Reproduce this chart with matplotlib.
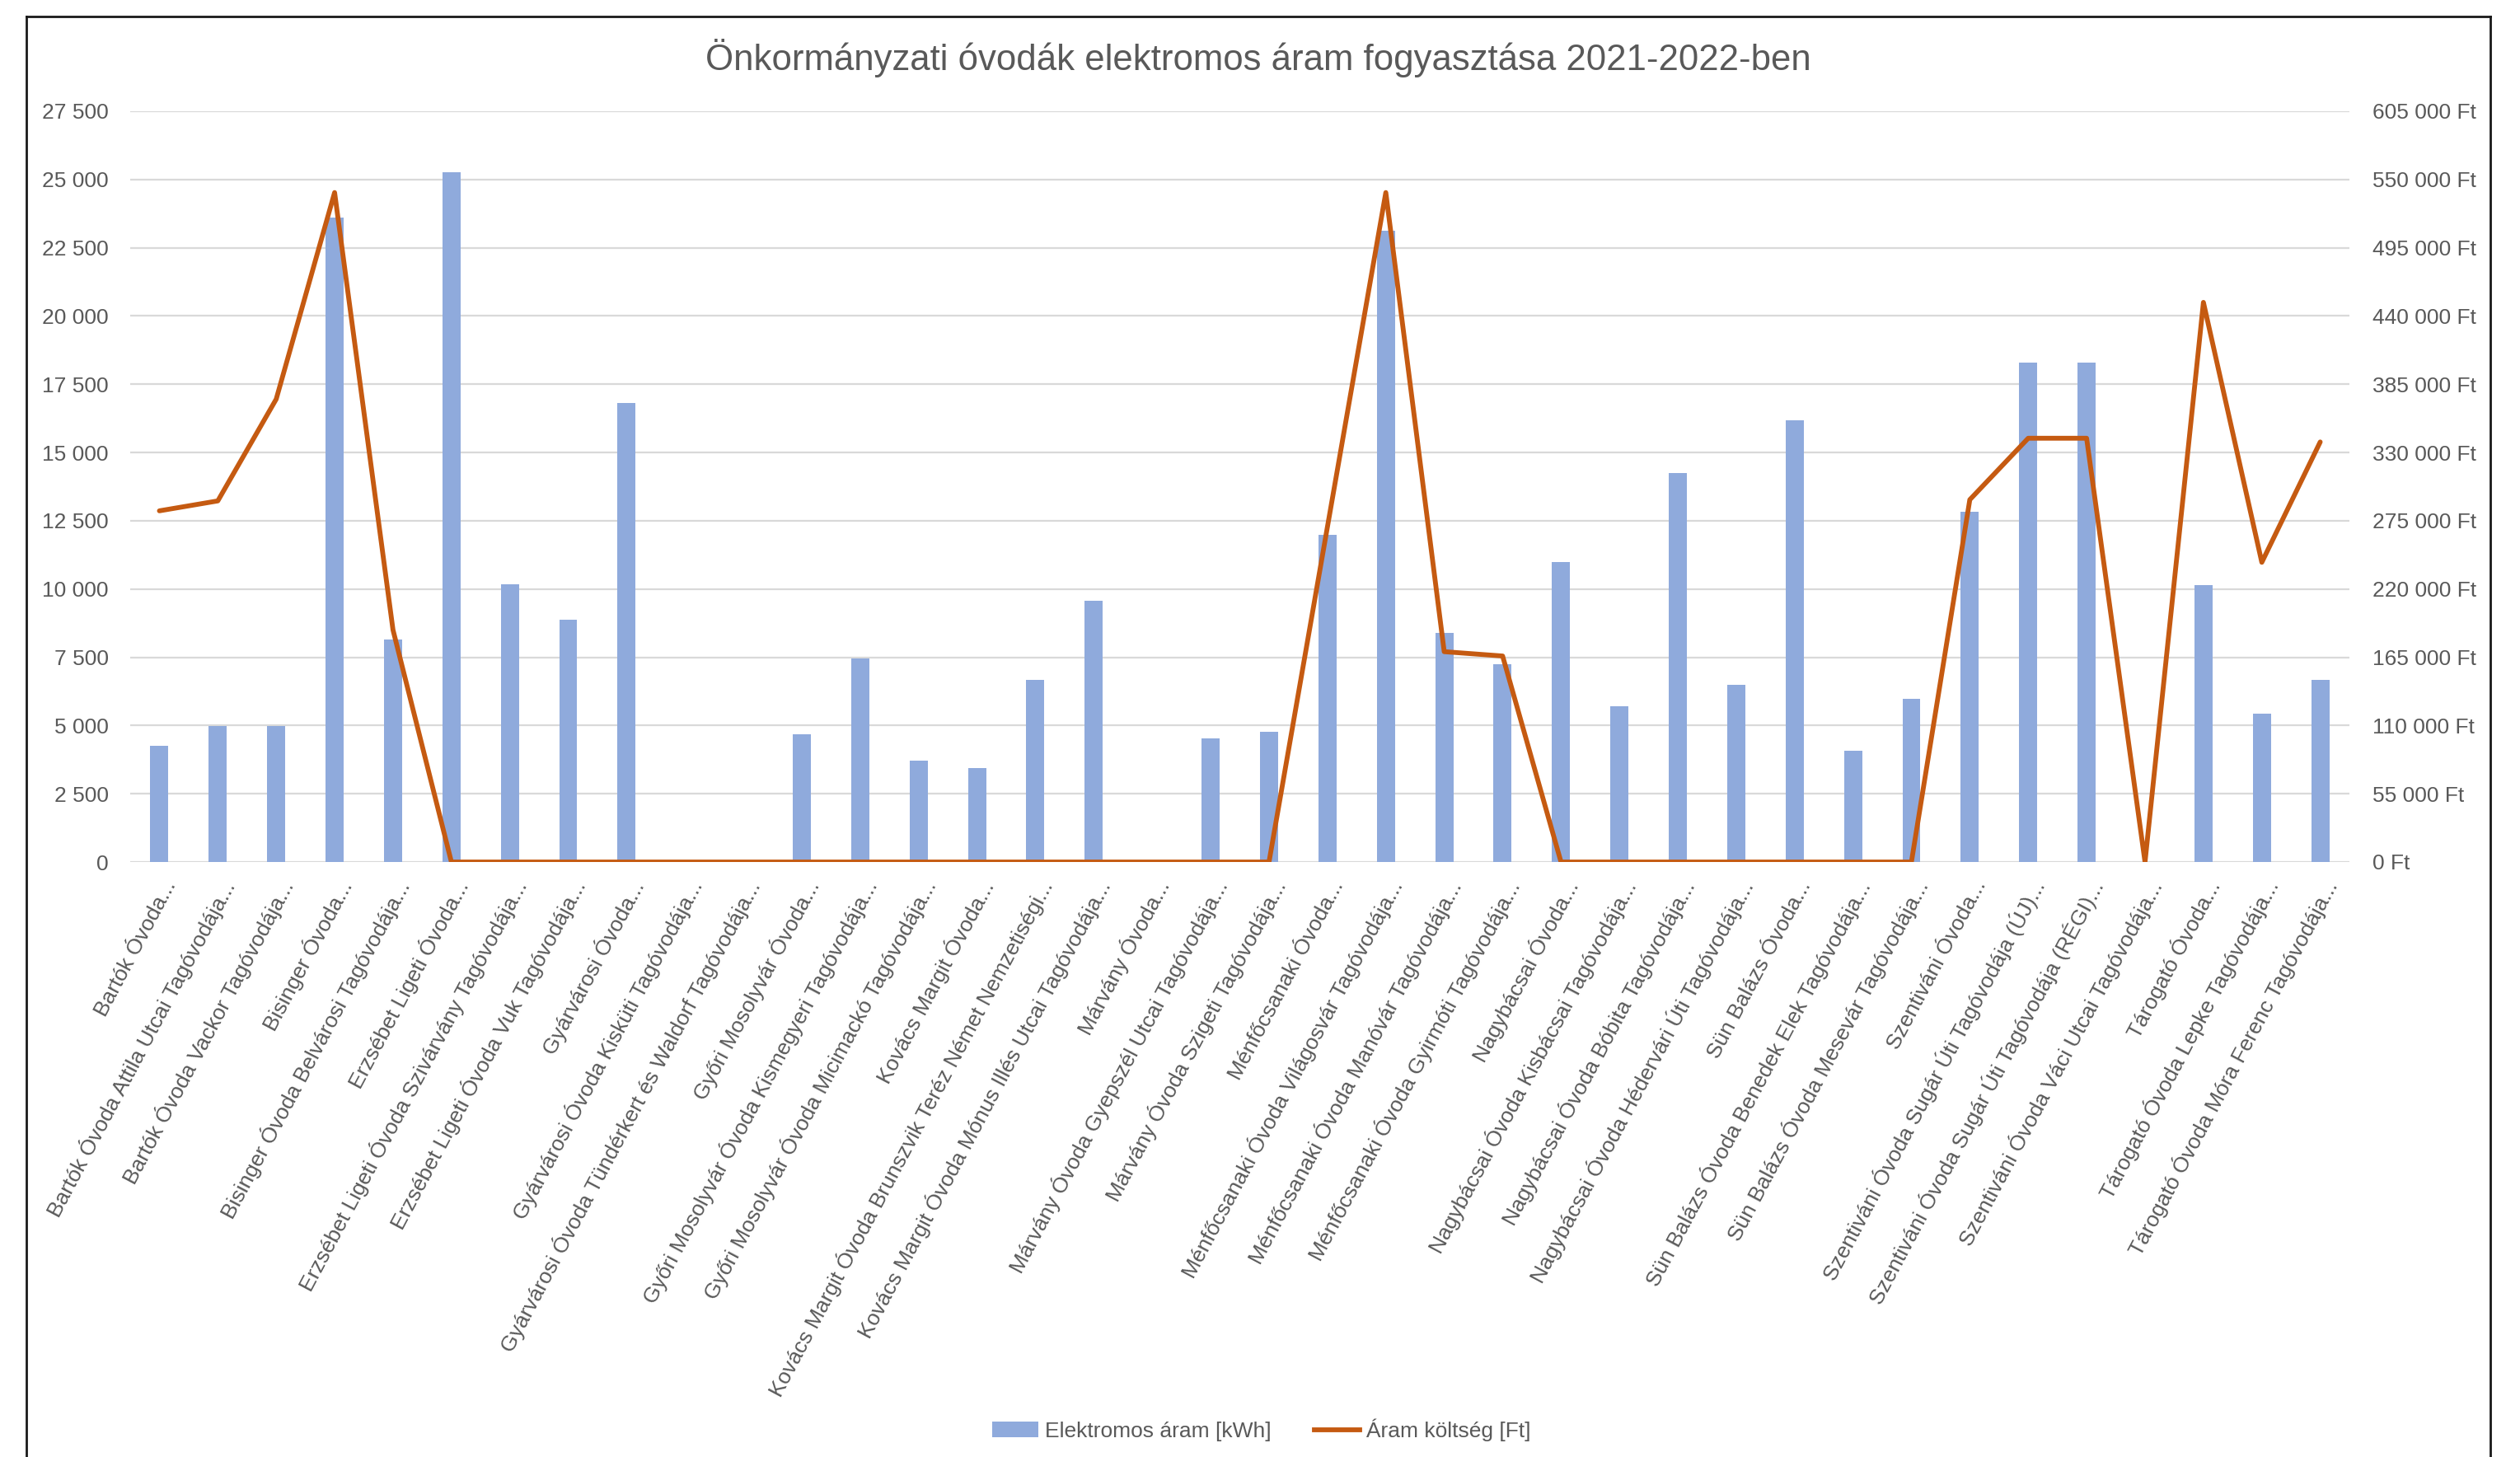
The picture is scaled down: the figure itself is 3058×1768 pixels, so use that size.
import matplotlib
matplotlib.use('Agg')
import matplotlib.pyplot as plt
import matplotlib.transforms as mtransforms
from matplotlib.lines import Line2D
from matplotlib.patches import Patch
from matplotlib.ticker import FuncFormatter

plt.rcParams['font.family'] = ['Liberation Sans Narrow', 'Liberation Sans', 'DejaVu Sans']

title = 'Önkormányzati óvodák elektromos áram fogyasztása 2021-2022-ben'

ovodak = [
    'Bartók Óvoda...',
    'Bartók Óvoda Attila Utcai Tagóvodája...',
    'Bartók Óvoda Vackor Tagóvodája...',
    'Bisinger Óvoda...',
    'Bisinger Óvoda Belvárosi Tagóvodája...',
    'Erzsébet Ligeti Óvoda...',
    'Erzsébet Ligeti Óvoda Szivárvány Tagóvodája...',
    'Erzsébet Ligeti Óvoda Vuk Tagóvodája...',
    'Gyárvárosi Óvoda...',
    'Gyárvárosi Óvoda Kisküti Tagóvodája...',
    'Gyárvárosi Óvoda Tündérkert és Waldorf Tagóvodája...',
    'Győri Mosolyvár Óvoda...',
    'Győri Mosolyvár Óvoda Kismegyeri Tagóvodája...',
    'Győri Mosolyvár Óvoda Micimackó Tagóvodája...',
    'Kovács Margit Óvoda...',
    'Kovács Margit Óvoda Brunszvik Teréz Német Nemzetiségi...',
    'Kovács Margit Óvoda Mónus Illés Utcai Tagóvodája...',
    'Márvány Óvoda...',
    'Márvány Óvoda Gyepszél Utcai Tagóvodája...',
    'Márvány Óvoda Szigeti Tagóvodája...',
    'Ménfőcsanaki Óvoda...',
    'Ménfőcsanaki Óvoda Világosvár Tagóvodája...',
    'Ménfőcsanaki Óvoda Manóvár Tagóvodája...',
    'Ménfőcsanaki Óvoda Gyirmóti Tagóvodája...',
    'Nagybácsai Óvoda...',
    'Nagybácsai Óvoda Kisbácsai Tagóvodája...',
    'Nagybácsai Óvoda Bóbita Tagóvodája...',
    'Nagybácsai Óvoda Hédervári Úti Tagóvodája...',
    'Sün Balázs Óvoda...',
    'Sün Balázs Óvoda Benedek Elek Tagóvodája...',
    'Sün Balázs Óvoda Mesevár Tagóvodája...',
    'Szentiváni Óvoda...',
    'Szentiváni Óvoda Sugár Úti Tagóvodája (ÚJ)...',
    'Szentiváni Óvoda Sugár Úti Tagóvodája (RÉGI)...',
    'Szentiváni Óvoda Váci Utcai Tagóvodája...',
    'Tárogató Óvoda...',
    'Tárogató Óvoda Lepke Tagóvodája...',
    'Tárogató Óvoda Móra Ferenc Tagóvodája...',
]

# Elektromos áram [kWh]
aram_kwh = [4260, 4970, 4970, 23600, 8160, 25260, 10170, 8870, 16820, 0,
            0, 4670, 7460, 3725, 3435, 6675, 9555, 0, 4530, 4760,
            11990, 23110, 8395, 7250, 10985, 5720, 14250, 6480, 16165, 4070,
            5975, 12840, 18280, 18280, 0, 10135, 5440, 6670]

# Áram költség [Ft]
koltseg_ft = [283000, 291000, 373000, 539500, 187000, 0, 0, 0, 0, 0,
              0, 0, 0, 0, 0, 0, 0, 0, 0, 0,
              270000, 539500, 169500, 166000, 0, 0, 0, 0, 0, 0,
              0, 292000, 341500, 341500, 0, 451000, 241500, 338500]

kwh_ticks = list(range(0, 27501, 2500))
ft_ticks = list(range(0, 605001, 55000))

txt = '#595959'
W, H = 3058, 1768
fig = plt.figure(figsize=(W / 100, H / 100), dpi=100)

ax = fig.add_axes([158 / W, 1 - 1046 / H, 2693 / W, 911 / H])
ax2 = ax.twinx()

x = list(range(len(ovodak)))
ax.bar(x, aram_kwh, width=0.31, color='#8FAADC', zorder=2)
ax2.plot(x, koltseg_ft, color='#C55A11', lw=4.2, solid_joinstyle='round',
         solid_capstyle='round', zorder=3)

ax.set_xlim(-0.5, len(ovodak) - 0.5)
ax.set_ylim(0, 27500)
ax2.set_ylim(0, 605000)
ax.set_yticks(kwh_ticks)
ax2.set_yticks(ft_ticks)
ax.yaxis.set_major_formatter(FuncFormatter(lambda v, p: f'{int(v):,}'.replace(',', ' ')))
ax2.yaxis.set_major_formatter(FuncFormatter(lambda v, p: f'{int(v):,}'.replace(',', ' ') + ' Ft'))

ax.set_axisbelow(True)
ax.grid(axis='y', color='#D9D9D9', lw=1.6, zorder=0)
ax.grid(axis='x', visible=False)
for a in (ax, ax2):
    for s in a.spines.values():
        s.set_visible(False)

ax.tick_params(axis='y', length=0, pad=19, labelsize=19, labelcolor=txt)
ax2.tick_params(axis='y', length=0, pad=20, labelsize=19, labelcolor=txt)
ax.tick_params(axis='x', length=0, pad=0)

ax.set_xticks(x)
ax.set_xticklabels(ovodak, rotation=62, ha='right', va='center',
                   rotation_mode='anchor', fontsize=19, color=txt)
offset = mtransforms.ScaledTranslation(14 / 100, -24 / 100, fig.dpi_scale_trans)
for lab in ax.get_xticklabels():
    lab.set_transform(lab.get_transform() + offset)

fig.text(1527 / W, 1 - 70 / H, title, ha='center', va='center',
         fontsize=31.5, color=txt)

handles = [Patch(facecolor='#8FAADC', edgecolor='none'),
           Line2D([0], [0], color='#C55A11', lw=4.2)]
fig.legend(handles, ['Elektromos áram [kWh]', 'Áram költség [Ft]'],
           loc='center', bbox_to_anchor=(1531 / W, 1 - 1735 / H), ncol=2,
           frameon=False, fontsize=19, labelcolor=txt, handlelength=2.1,
           handleheight=0.7, handletextpad=0.3, columnspacing=2.0)

# chart border (bottom edge falls outside the picture)
for xs, ys in [([32 / W, 32 / W], [0, 1 - 20 / H]),
               ([32 / W, 3022 / W], [1 - 20 / H, 1 - 20 / H]),
               ([3022 / W, 3022 / W], [1 - 20 / H, 0])]:
    fig.add_artist(Line2D(xs, ys, color='#1a1a1a', lw=2))

fig.savefig('out.png', dpi=100, facecolor='white')
